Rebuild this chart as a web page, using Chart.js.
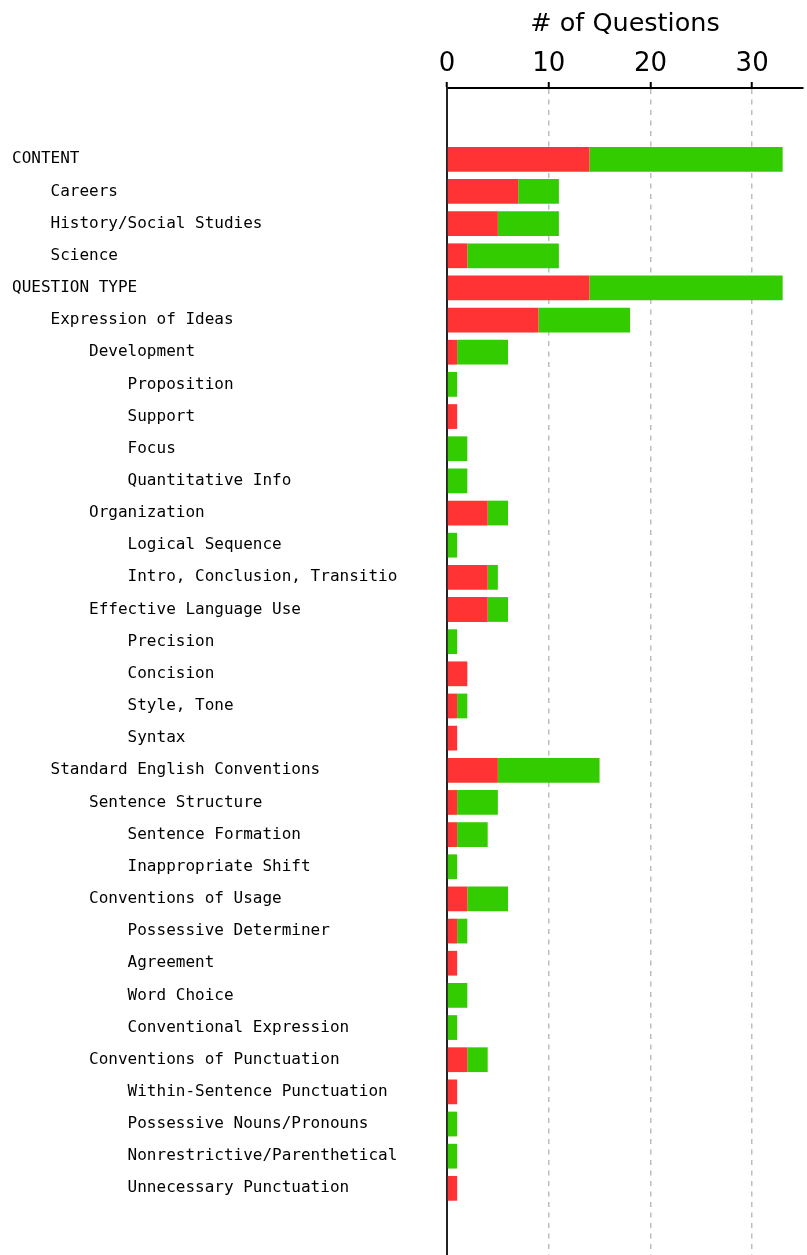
<!DOCTYPE html>
<html>
<head>
<meta charset="utf-8">
<script src="https://cdn.jsdelivr.net/npm/chart.js@4/dist/chart.umd.min.js"></script>
<style>
  html, body { margin: 0; padding: 0; background: #fff; }
  #wrap { width: 807px; height: 1255px; position: relative; }
</style>
</head>
<body>
<div id="wrap"><canvas id="c"></canvas></div>
<script>
const categories = [
  "CONTENT",
  "    Careers",
  "    History/Social Studies",
  "    Science",
  "QUESTION TYPE",
  "    Expression of Ideas",
  "        Development",
  "            Proposition",
  "            Support",
  "            Focus",
  "            Quantitative Info",
  "        Organization",
  "            Logical Sequence",
  "            Intro, Conclusion, Transitio",
  "        Effective Language Use",
  "            Precision",
  "            Concision",
  "            Style, Tone",
  "            Syntax",
  "    Standard English Conventions",
  "        Sentence Structure",
  "            Sentence Formation",
  "            Inappropriate Shift",
  "        Conventions of Usage",
  "            Possessive Determiner",
  "            Agreement",
  "            Word Choice",
  "            Conventional Expression",
  "        Conventions of Punctuation",
  "            Within-Sentence Punctuation",
  "            Possessive Nouns/Pronouns",
  "            Nonrestrictive/Parenthetical",
  "            Unnecessary Punctuation"
];
const incorrect = [14,7,5,2,14,9,1,0,1,0,0,4,0,4,4,0,2,1,1,5,1,1,0,2,1,1,0,0,2,1,0,0,1];
const correct   = [19,4,6,9,19,9,5,1,0,2,2,2,1,1,2,1,0,1,0,10,4,3,1,4,1,0,2,1,2,0,1,1,0];
const xTicks = [0,10,20,30];
const xTitle = "# of Questions";

new Chart(document.getElementById('c'), {
  type: 'bar',
  data: {
    labels: categories,
    datasets: [
      { label: 'Incorrect', data: incorrect, backgroundColor: '#ff3333', borderWidth: 0 },
      { label: 'Correct', data: correct, backgroundColor: '#33cc00', borderWidth: 0 }
    ]
  },
  options: {
    indexAxis: 'y',
    responsive: true,
    maintainAspectRatio: false,
    animation: false,
    layout: { padding: { left: 12, right: 4, top: 0, bottom: 0 } },
    plugins: { legend: { display: false }, tooltip: { enabled: false } },
    datasets: { bar: { barPercentage: 0.77, categoryPercentage: 1.0 } },
    scales: {
      x: {
        type: 'linear',
        position: 'top',
        stacked: true,
        min: 0,
        max: 35,
        afterFit: (s) => { s.height = 88; },
        afterBuildTicks: (s) => { s.ticks = xTicks.map(v => ({ value: v })); },
        ticks: {
          stepSize: 10,
          includeBounds: false,
          color: '#000',
          padding: 2,
          font: { family: 'DejaVu Sans', size: 26 }
        },
        title: {
          display: true,
          text: xTitle,
          color: '#000',
          padding: { top: 9, bottom: 0 },
          font: { family: 'DejaVu Sans', size: 25.5 }
        },
        grid: {
          color: '#bdbdbd',
          lineWidth: 1.5,
          drawTicks: true,
          tickLength: 6,
          tickColor: '#000',
          tickWidth: 2,
          tickBorderDash: []
        },
        border: { display: true, color: '#000', width: 2, dash: [5, 5.5] }
      },
      y: {
        type: 'category',
        stacked: true,
        afterFit: (s) => { s.width = 435; s.paddingTop = 0; s.paddingBottom = 0; },
        afterBuildTicks: (s) => { s._startValue = -0.5 - 1.717; s._valueRange = 36.29; },
        ticks: {
          crossAlign: 'far',
          padding: 0,
          color: '#000',
          autoSkip: false,
          font: { family: 'DejaVu Sans Mono', size: 16 }
        },
        grid: { display: false, drawTicks: false },
        border: { display: true, color: '#222', width: 2 }
      }
    }
  }
});
</script>
</body>
</html>
